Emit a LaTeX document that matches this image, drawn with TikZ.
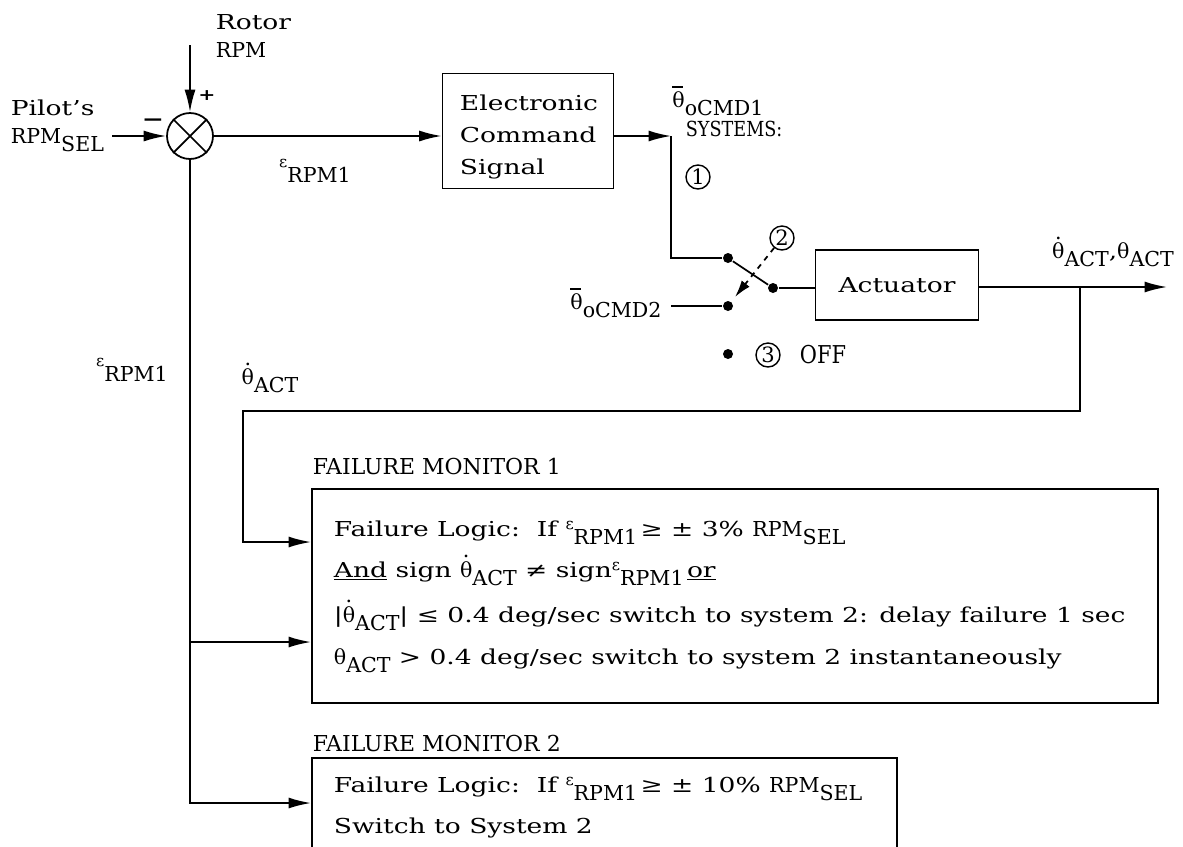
\documentclass[tikz,border=0pt]{standalone}
\usepackage{fontspec}
\setmainfont[FakeStretch=1.29]{DejaVu Serif}
\newfontfamily\capf{DejaVu Serif}
\newfontfamily\tallf[FakeStretch=0.85]{DejaVu Serif}
\usetikzlibrary{arrows.meta}
\newcommand{\lowtxt}[1]{\raisebox{-0.4em}{\capf #1}}
\newcommand{\epsr}{\raisebox{0.3em}{\capf\small ε}}
\newcommand{\thdot}{\makebox[0pt][l]{\capf\hspace{0.14em}\raisebox{0.95em}{.}}{\capf θ}}
\newcommand{\thbar}{\makebox[0pt][l]{\rule[0.95em]{0.5em}{0.06em}}{\capf θ}}

\begin{document}
\begin{tikzpicture}[
                    x=0.02cm, y=-0.02cm, line width=1pt,
                    font=\fontsize{11.7}{16}\selectfont,
                    block/.style = {draw=black, rectangle, inner sep=0pt},
                    sumj/.style = {draw=black, circle, minimum size=0.92cm, inner sep=0pt},
                    numc/.style = {draw=black, circle, minimum size=0.48cm, inner sep=0pt, line width=0.8pt, font=\capf\fontsize{12}{12}\selectfont},
                    contact/.style = {fill=black, circle, minimum size=0.2cm, inner sep=0pt},
                    txt/.style = {inner sep=0pt},
                    arr/.style = {-{Latex[length=4.5mm,width=2.2mm]}}
                ]
                    \clip (0,0) rectangle (1183,846);

                    % inputs and summing junction
                    \node[txt, anchor=west, align=left] (rotor) at (215,36) {Rotor\\{\capf RPM}};
                    \node[txt, anchor=west, align=left] (pilot) at (10,126) {Pilot's\\{\capf RPM}\lowtxt{SEL}};
                    \node[sumj] (sum) at (190,136) {};
                    \draw (sum.45) -- (sum.225) (sum.135) -- (sum.315);
                    \coordinate (rin) at (190,45);
                    \coordinate (pin) at (112,136);
                    \draw[arr] (rin) -- (sum);
                    \draw[arr] (pin) -- (sum);
                    \node[txt] (plus) at (207,96) {\small\bfseries +};
                    \node[txt] (minus) at (153,123) {\bfseries −};

                    % command path
                    \node[block, minimum width=3.42cm, minimum height=2.3cm] (ecs) at (528,131) {};
                    \node[txt, align=left, font=\fontsize{11.7}{18}\selectfont] (ecslab) at (529,137) {Electronic\\Command\\Signal};
                    \draw[arr] (sum) -- (sum -| ecs.west);
                    \node[txt] (eps1) at (315,171) {\epsr\lowtxt{RPM1}};
                    \coordinate (bend1) at (671,136);
                    \draw[arr] (ecs.east |- bend1) -- (bend1);
                    \node[txt] (thc1) at (718,101) {\thbar\lowtxt{oCMD1}};
                    \node[txt, anchor=west, font=\tallf\fontsize{11.8}{12}\selectfont] (sys) at (685,129) {SYSTEMS:};
                    \node[numc] (n1) at (698,177) {1};

                    % switch
                    \node[contact] (k1) at (728,258) {};
                    \node[contact] (k2) at (728,306) {};
                    \node[contact] (k3) at (728,354) {};
                    \node[contact] (kp) at (773,288) {};
                    \draw (bend1) |- (k1);
                    \draw (k1) -- (kp);
                    \node[numc] (n2) at (782,238) {2};
                    \coordinate (tip2) at (735,297);
                    \draw[dashed, -{Latex[length=3.4mm,width=2mm]}] (n2) -- (tip2);
                    \node[txt] (thc2) at (616,303) {\thbar\lowtxt{oCMD2}};
                    \coordinate (c2in) at (671,306);
                    \draw (c2in) -- (k2);
                    \node[numc] (n3) at (768,355) {3};
                    \node[txt, anchor=west, font=\tallf\fontsize{14}{14}\selectfont] (off) at (799,355) {OFF};

                    % actuator and output
                    \node[block, minimum width=3.26cm, minimum height=1.4cm] (act) at (897,285) {Actuator};
                    \draw (kp) -- (kp -| act.west);
                    \coordinate (br) at (1080,287);
                    \coordinate (out) at (1167,287);
                    \draw (act.east |- br) -- (br);
                    \draw[arr] (br) -- (out);
                    \node[txt] (thout) at (1113,252) {\thdot\lowtxt{ACT},{\capf θ}\lowtxt{ACT}};

                    % failure monitors
                    \node[txt, anchor=base west, font=\capf\fontsize{12.5}{14}\selectfont] (fm1lab) at (312,474) {FAILURE MONITOR 1};
                    \node[block, minimum width=16.92cm, minimum height=4.28cm, anchor=north west] (fm1) at (311,488) {};
                    \node[txt, anchor=base west] (l1) at (333,536) {Failure Logic:\ \ If \epsr\lowtxt{RPM1}\,≥ ± 3\% {\capf RPM}\lowtxt{SEL}};
                    \node[txt, anchor=base west] (l2) at (333,577) {\underline{And} sign \thdot\lowtxt{ACT} ≠ sign\epsr\lowtxt{RPM1}\,\underline{or}};
                    \node[txt, anchor=base west] (l3) at (333,622) {|\thdot\lowtxt{ACT}| ≤ 0.4 deg/sec switch to system 2: delay failure 1 sec};
                    \node[txt, anchor=base west] (l4) at (333,664) {{\capf θ}\lowtxt{ACT} > 0.4 deg/sec switch to system 2 instantaneously};

                    \node[txt, anchor=base west, font=\capf\fontsize{12.5}{14}\selectfont] (fm2lab) at (312,751) {FAILURE MONITOR 2};
                    \node[block, minimum width=11.7cm, minimum height=2.2cm, anchor=north west] (fm2) at (311,757) {};
                    \node[txt, anchor=base west] (m1) at (333,792) {Failure Logic:\ \ If \epsr\lowtxt{RPM1}\,≥ ± 10\% {\capf RPM}\lowtxt{SEL}};
                    \node[txt, anchor=base west] (m2) at (333,833) {Switch to System 2};

                    % feedback and error lines
                    \coordinate (fb2) at (243,411);
                    \coordinate (a1) at (311,542);
                    \coordinate (a2) at (311,642);
                    \coordinate (a3) at (311,803);
                    \coordinate (e1) at (190,642);
                    \draw[arr] (br) |- (fb2) |- (a1);
                    \draw[arr] (sum) |- (a3);
                    \draw[arr] (e1) -- (a2);
                    \node[txt] (thfb) at (270,378) {\thdot\lowtxt{ACT}};
                    \node[txt] (eps2) at (132,370) {\epsr\lowtxt{RPM1}};
                \end{tikzpicture}
\end{document}
